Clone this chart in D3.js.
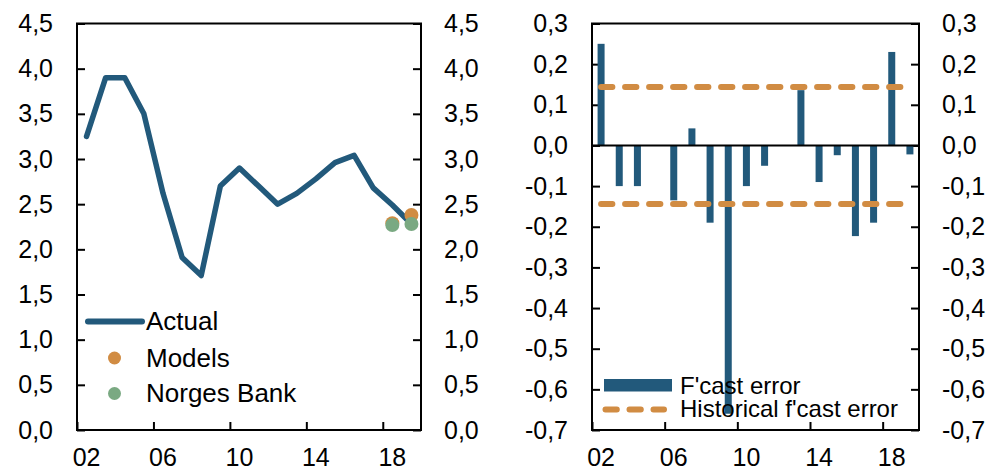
<!DOCTYPE html>
<html>
<head>
<meta charset="utf-8">
<script src="https://cdn.jsdelivr.net/npm/d3@7"></script>
<style>
  body { margin: 0; background: #fff; }
  svg text { font-family: "Liberation Sans", Arial, sans-serif; fill: #000; }
</style>
</head>
<body>
<svg id="chart" width="994" height="472"></svg>
<script>
// DATA
const years = [2002, 2003, 2004, 2005, 2006, 2007, 2008, 2009, 2010,
  2011, 2012, 2013, 2014, 2015, 2016, 2017, 2018, 2019];
const actual = [3.25, 3.9, 3.9, 3.5, 2.62, 1.91, 1.71, 2.7, 2.9,
  2.7, 2.5, 2.62, 2.78, 2.96, 3.04, 2.68, 2.49, 2.28];
const forecastYears = [2018, 2019];
const models = [2.29, 2.38];
const norgesBank = [2.27, 2.28];
const fcastError = [0.25, -0.1, -0.1, null, -0.135, 0.042, -0.19, -0.66, -0.1,
  -0.05, null, 0.136, -0.09, -0.024, -0.223, -0.19, 0.23, -0.022];
const histError = 0.144;
const leftTicks = [0, 0.5, 1, 1.5, 2, 2.5, 3, 3.5, 4, 4.5];
const rightTicks = [0.3, 0.2, 0.1, 0, -0.1, -0.2, -0.3, -0.4, -0.5, -0.6, -0.7];
const yearTicks = [2002, 2006, 2010, 2014, 2018];
const yearLabels = ["02", "06", "10", "14", "18"];

// STYLE
const blue = "#22597b", orange = "#d18c43", green = "#7aa982";
const fontSize = 25;

const loc = d3.formatLocale({ decimal: ",", thousands: " ", grouping: [3], currency: ["", ""], minus: "-" });
const fmt = loc.format(".1f");

const svg = d3.select("#chart");

// CANVAS SETUP
const p1 = { left: 77, right: 421, top: 23.5, bottom: 430 },
  p2 = { left: 592, right: 919, top: 23.5, bottom: 430 };

const x1 = d3.scaleLinear().domain([2002, 2020]).range([p1.left, p1.right]),
  y1 = d3.scaleLinear().domain([0, 4.5]).range([p1.bottom, p1.top]),
  x2 = d3.scaleLinear().domain([2002, 2020]).range([p2.left, p2.right]),
  y2 = d3.scaleLinear().domain([-0.7, 0.3]).range([p2.bottom, p2.top]);

function drawAxes(p, x, y, ticks) {
  const h = p.bottom - p.top, w = p.right - p.left;
  const gl = svg.append("g").attr("transform", `translate(${p.left},0)`)
    .call(d3.axisLeft(y).tickValues(ticks).tickSize(-8).tickPadding(24).tickFormat(fmt));
  const gr = svg.append("g").attr("transform", `translate(${p.right},0)`)
    .call(d3.axisRight(y).tickValues(ticks).tickSize(-8).tickPadding(23).tickFormat(fmt));
  const gb = svg.append("g").attr("transform", `translate(0,${p.bottom})`)
    .call(d3.axisBottom(x).tickValues(yearTicks).tickSize(-8).tickFormat(""));
  [gl, gr, gb].forEach((g) => {
    g.select(".domain").remove();
    g.selectAll("line").attr("stroke", "#000").attr("stroke-width", 2);
    g.selectAll("text").attr("font-size", fontSize)
      .attr("font-family", "Liberation Sans, Arial, sans-serif").attr("fill", "#000");
  });
  svg.append("g").selectAll("text")
    .data(yearTicks)
    .join("text")
    .attr("x", (d) => x(d + 0.5))
    .attr("y", 466)
    .attr("text-anchor", "middle")
    .attr("font-size", fontSize)
    .text((d, i) => yearLabels[i]);
  svg.append("rect")
    .attr("x", p.left).attr("y", p.top)
    .attr("width", w).attr("height", h)
    .attr("fill", "none").attr("stroke", "#000").attr("stroke-width", 2);
}

// LEFT PANEL
drawAxes(p1, x1, y1, leftTicks);

const line = d3.line().x((d, i) => x1(years[i] + 0.5)).y((d) => y1(d));
svg.append("path")
  .datum(actual)
  .attr("d", line)
  .attr("fill", "none")
  .attr("stroke", blue)
  .attr("stroke-width", 5.5)
  .attr("stroke-linejoin", "round")
  .attr("stroke-linecap", "round");

svg.append("g").selectAll("circle")
  .data(models)
  .join("circle")
  .attr("cx", (d, i) => x1(forecastYears[i] + 0.5))
  .attr("cy", (d) => y1(d))
  .attr("r", 7)
  .attr("fill", orange);

svg.append("g").selectAll("circle")
  .data(norgesBank)
  .join("circle")
  .attr("cx", (d, i) => x1(forecastYears[i] + 0.5))
  .attr("cy", (d) => y1(d))
  .attr("r", 7)
  .attr("fill", green);

// left legend
const lg = svg.append("g");
lg.append("line").attr("x1", 88).attr("x2", 142).attr("y1", 321.5).attr("y2", 321.5)
  .attr("stroke", blue).attr("stroke-width", 6).attr("stroke-linecap", "round");
lg.append("circle").attr("cx", 114.5).attr("cy", 358).attr("r", 6.5).attr("fill", orange);
lg.append("circle").attr("cx", 114.5).attr("cy", 393.5).attr("r", 6.5).attr("fill", green);
lg.selectAll("text")
  .data([["Actual", 330], ["Models", 366.5], ["Norges Bank", 401.5]])
  .join("text")
  .attr("x", 146)
  .attr("y", (d) => d[1])
  .attr("font-size", 26)
  .text((d) => d[0]);

// RIGHT PANEL
drawAxes(p2, x2, y2, rightTicks);

const barW = 7;
svg.append("g").selectAll("rect")
  .data(fcastError.map((v, i) => ({ year: years[i], v })).filter((d) => d.v !== null))
  .join("rect")
  .attr("x", (d) => x2(d.year + 0.5) - barW / 2)
  .attr("y", (d) => y2(Math.max(0, d.v)))
  .attr("width", barW)
  .attr("height", (d) => Math.abs(y2(d.v) - y2(0)))
  .attr("fill", blue);

svg.append("line")
  .attr("x1", p2.left).attr("x2", p2.right)
  .attr("y1", y2(0)).attr("y2", y2(0))
  .attr("stroke", "#000").attr("stroke-width", 2);

svg.append("g").selectAll("line")
  .data([histError, -histError])
  .join("line")
  .attr("x1", x2(2002.5)).attr("x2", x2(2019.5))
  .attr("y1", (d) => y2(d)).attr("y2", (d) => y2(d))
  .attr("stroke", orange)
  .attr("stroke-width", 6)
  .attr("stroke-linecap", "round")
  .attr("stroke-dasharray", "11.3,12.7");

// right legend
const rg = svg.append("g");
rg.append("rect").attr("x", 604).attr("y", 379).attr("width", 68).attr("height", 12.5).attr("fill", blue);
rg.append("line").attr("x1", 605.5).attr("x2", 664).attr("y1", 409.5).attr("y2", 409.5)
  .attr("stroke", orange).attr("stroke-width", 6).attr("stroke-linecap", "round")
  .attr("stroke-dasharray", "11.3,12.7");
rg.selectAll("text")
  .data([["F'cast error", 394], ["Historical f'cast error", 417]])
  .join("text")
  .attr("x", 680)
  .attr("y", (d) => d[1])
  .attr("font-size", 24)
  .text((d) => d[0]);
</script>
</body>
</html>
